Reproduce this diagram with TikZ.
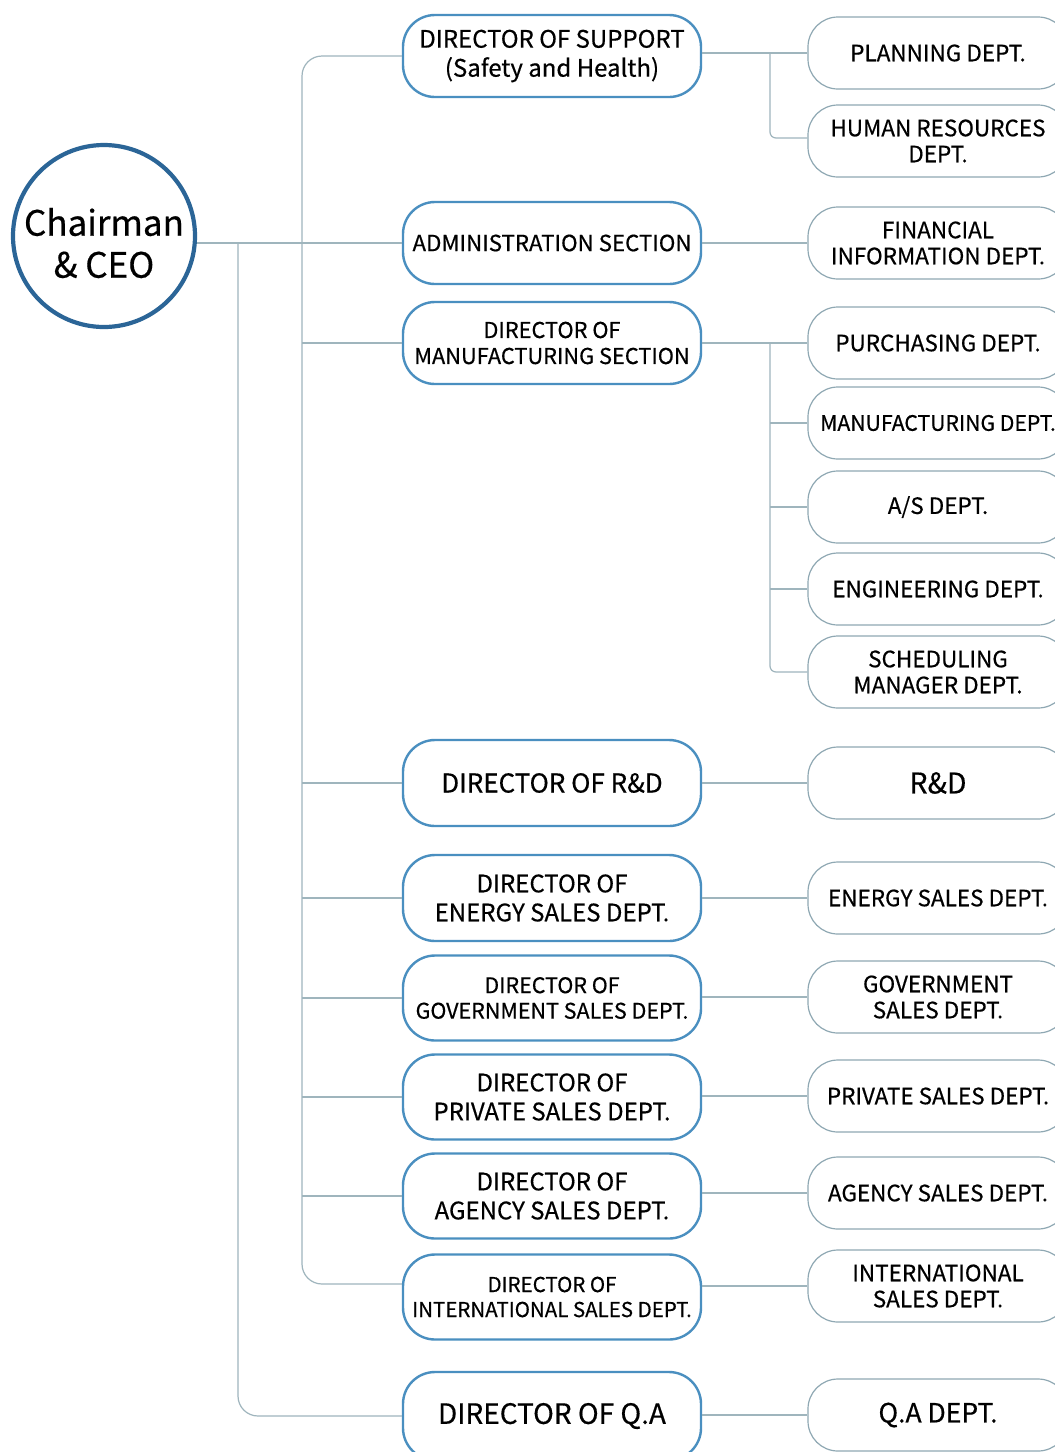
\documentclass[tikz,border=0pt]{standalone}
\usepackage{fontspec}
\setmainfont{Noto Sans CJK KR}[FakeBold=0.5]
\definecolor{ceoblue}{HTML}{2B6597}
\definecolor{midblue}{HTML}{4A8FC0}
\definecolor{rgray}{HTML}{8FA8B3}
\definecolor{lgray}{HTML}{9FB5BD}
\newcommand{\fsz}[2]{\fontsize{#1}{#2}\selectfont}
\tikzset{
  x=1pt, y=-1pt,
  ceobox/.style={circle, draw=ceoblue, line width=4.2pt, minimum size=182pt, inner sep=0pt},
  midbox/.style={rectangle, rounded corners=32pt, draw=midblue, line width=2.4pt, minimum width=298pt, align=center, inner sep=0pt, fill=white},
  rbox/.style={rectangle, rounded corners=30pt, draw=rgray, line width=1.2pt, minimum width=260pt, minimum height=72pt, align=center, inner sep=0pt, fill=white, font=\fsz{22.5}{26}},
  conn/.style={draw=lgray, line width=1.2pt},
}
\begin{document}
\begin{tikzpicture}
\clip (0,0) rectangle (1055,1452);
\fill[white] (0,0) rectangle (1055,1452);
\coordinate (t1) at (302,0);
\coordinate (t2) at (238,0);
\coordinate (b) at (770,0);

% CEO
\node[ceobox, label={[font=\fsz{35}{42}, align=center, yshift=-7pt]center:Chairman\\\& CEO}] (ceo) at (104,236) {};

% middle column
\node[midbox, font=\fsz{24}{29}, minimum height=82pt] (sup) at (552,56) {DIRECTOR OF SUPPORT\\(Safety and Health)};
\node[midbox, font=\fsz{22.3}{27}, minimum height=82pt] (adm) at (552,243) {ADMINISTRATION SECTION};
\node[midbox, font=\fsz{21.8}{26}, minimum height=82pt] (man) at (552,343) {DIRECTOR OF\\MANUFACTURING SECTION};
\node[midbox, font=\fsz{26}{30}, minimum height=86pt] (rnd) at (552,783) {DIRECTOR OF R\&D};
\node[midbox, font=\fsz{24}{29}, minimum height=86pt] (ene) at (552,898) {DIRECTOR OF\\ENERGY SALES DEPT.};
\node[midbox, font=\fsz{21.5}{25.5}, minimum height=85pt] (gov) at (552,998) {DIRECTOR OF\\GOVERNMENT SALES DEPT.};
\node[midbox, font=\fsz{24}{29}, minimum height=85pt] (pri) at (552,1097) {DIRECTOR OF\\PRIVATE SALES DEPT.};
\node[midbox, font=\fsz{24}{29}, minimum height=85pt] (age) at (552,1196) {DIRECTOR OF\\AGENCY SALES DEPT.};
\node[midbox, font=\fsz{20.5}{25}, minimum height=85pt] (int) at (552,1297) {DIRECTOR OF\\INTERNATIONAL SALES DEPT.};
\node[midbox, font=\fsz{28}{32}, minimum height=88pt] (qa) at (552,1416) {DIRECTOR OF Q.A};

% right column
\node[rbox] (pla) at (938,53) {PLANNING DEPT.};
\node[rbox] (hr) at (938,141) {HUMAN RESOURCES\\DEPT.};
\node[rbox] (fin) at (938,243) {FINANCIAL\\INFORMATION DEPT.};
\node[rbox] (pur) at (938,343) {PURCHASING DEPT.};
\node[rbox, font=\fsz{21.2}{25}] (mfg) at (938,423) {MANUFACTURING DEPT.};
\node[rbox] (as) at (938,507) {A/S DEPT.};
\node[rbox] (eng) at (938,589) {ENGINEERING DEPT.};
\node[rbox] (sch) at (938,672) {SCHEDULING\\MANAGER DEPT.};
\node[rbox, font=\fsz{28.5}{32}] (rd) at (938,783) {R\&D};
\node[rbox] (ens) at (938,898) {ENERGY SALES DEPT.};
\node[rbox] (gvs) at (938,997) {GOVERNMENT\\SALES DEPT.};
\node[rbox] (prs) at (938,1096) {PRIVATE SALES DEPT.};
\node[rbox] (ags) at (938,1193) {AGENCY SALES DEPT.};
\node[rbox] (ins) at (938,1286) {INTERNATIONAL\\SALES DEPT.};
\node[rbox, font=\fsz{26.5}{30}] (qad) at (938,1415) {Q.A DEPT.};

\coordinate (ia) at ([yshift=13pt]int.west);
\coordinate (hra) at ([yshift=3pt]hr.west);
% CEO to admin
\draw[conn] (ceo.east |- adm.west) -- (adm.west);
% trunk 2 to QA
\draw[conn, rounded corners=20pt] (t2 |- adm.west) |- (qa.west);
% trunk 1
\draw[conn, rounded corners=20pt] (sup.west) -| (t1 |- ia) -- (ia);
\foreach \n in {adm,man,rnd,ene,gov,pri,age}
  \draw[conn] (t1 |- \n.west) -- (\n.west);
% right links
\draw[conn] (sup.east |- pla.west) -- (pla.west);
\draw[conn, rounded corners=6pt] (b |- pla.west) |- (hra);
\draw[conn] (adm.east) -- (fin.west);
\draw[conn] (man.east) -- (pur.west);
\draw[conn, rounded corners=6pt] (b |- pur.west) |- (sch.west);
\foreach \n in {mfg,as,eng}
  \draw[conn] (b |- \n.west) -- (\n.west);
\draw[conn] (rnd.east) -- (rd.west);
\draw[conn] (ene.east) -- (ens.west);
\draw[conn] (gov.east |- gvs.west) -- (gvs.west);
\draw[conn] (pri.east |- prs.west) -- (prs.west);
\draw[conn] (age.east |- ags.west) -- (ags.west);
\draw[conn] (int.east |- ins.west) -- (ins.west);
\draw[conn] (qa.east |- qad.west) -- (qad.west);
\end{tikzpicture}
\end{document}
